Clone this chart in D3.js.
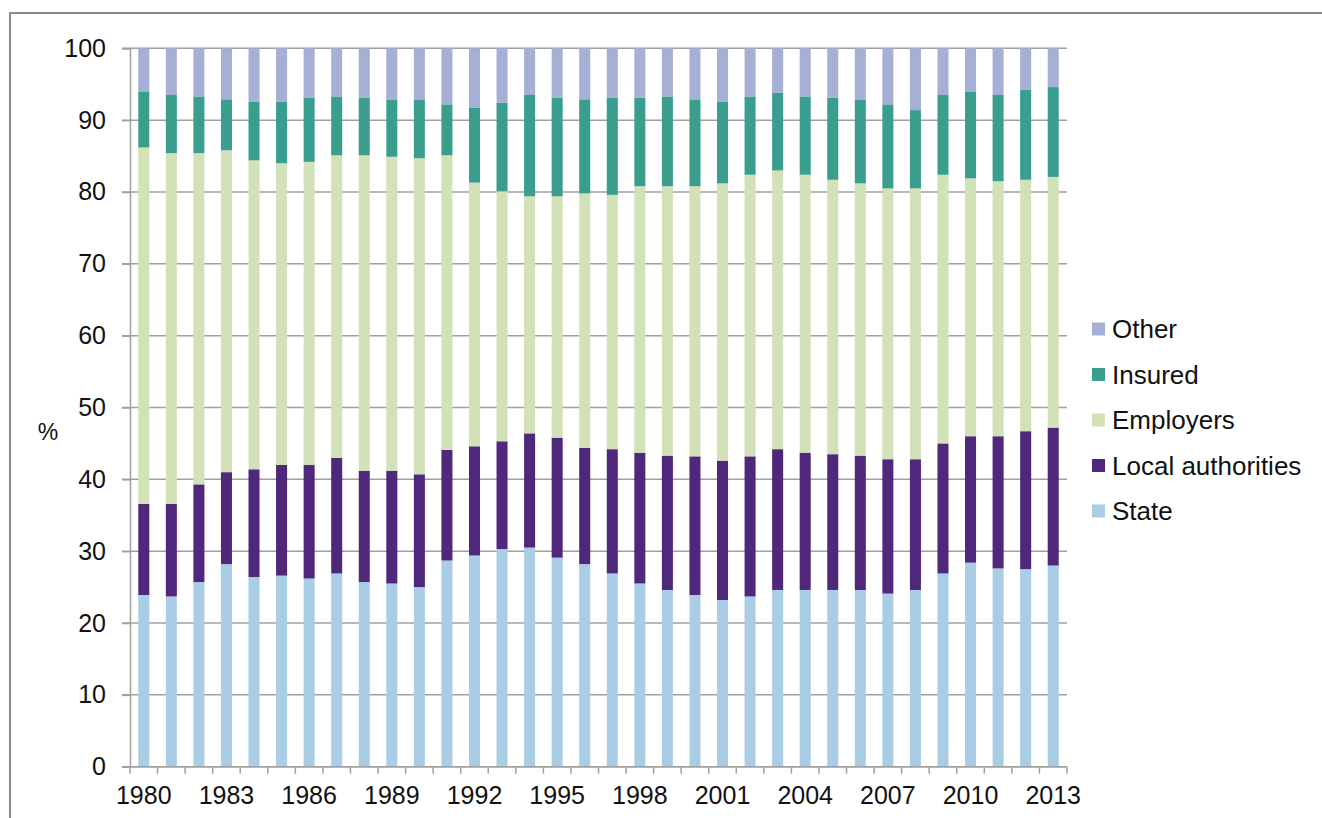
<!DOCTYPE html>
<html><head><meta charset="utf-8">
<script src="https://cdn.jsdelivr.net/npm/d3@7"></script>
<style>body{margin:0;background:#fff;}svg{display:block;font-family:"Liberation Sans",Arial,sans-serif;}</style>
</head><body>
<script>
const years = [1980,1981,1982,1983,1984,1985,1986,1987,1988,1989,1990,1991,1992,1993,1994,1995,1996,1997,1998,1999,2000,2001,2002,2003,2004,2005,2006,2007,2008,2009,2010,2011,2012,2013];
const seriesNames = ["State","Local authorities","Employers","Insured","Other"];
const state = [23.9,23.7,25.7,28.2,26.4,26.6,26.2,26.9,25.7,25.5,25.0,28.7,29.4,30.3,30.5,29.1,28.2,26.9,25.5,24.6,23.9,23.2,23.7,24.6,24.6,24.6,24.6,24.1,24.6,26.9,28.4,27.6,27.5,28.0];
const localAuth = [12.7,12.9,13.6,12.8,15.0,15.4,15.8,16.1,15.5,15.7,15.7,15.4,15.2,15.0,15.9,16.7,16.2,17.3,18.2,18.7,19.3,19.4,19.5,19.6,19.1,18.9,18.7,18.7,18.2,18.1,17.6,18.4,19.2,19.2];
const employers = [49.6,48.8,46.1,44.8,43.0,42.0,42.2,42.1,43.9,43.7,44.0,41.0,36.7,34.8,33.0,33.6,35.4,35.4,37.1,37.5,37.6,38.6,39.2,38.8,38.7,38.2,37.9,37.7,37.7,37.4,35.9,35.5,35.0,34.9];
const insured = [7.8,8.1,7.9,7.1,8.2,8.6,8.9,8.2,8.0,7.9,8.1,7.1,10.4,12.3,14.1,13.7,13.1,13.5,12.3,12.5,12.0,11.4,10.9,10.8,10.9,11.4,11.6,11.7,10.9,11.1,12.1,12.0,12.5,12.5];
const other = [6.0,6.5,6.7,7.1,7.4,7.4,6.9,6.7,6.9,7.2,7.2,7.8,8.3,7.6,6.5,6.9,7.1,6.9,6.9,6.7,7.2,7.4,6.7,6.2,6.7,6.9,7.2,7.8,8.6,6.5,6.0,6.5,5.8,5.4];
const yTicks = [0,10,20,30,40,50,60,70,80,90,100];
const xTickLabels = [1980,1983,1986,1989,1992,1995,1998,2001,2004,2007,2010,2013];
const colors = ["#a9cde4","#4f287c","#d2e1b7","#3a9e8e","#a6afd5"];

const rows = years.map((y,i)=>({year:y,"State":state[i],"Local authorities":localAuth[i],"Employers":employers[i],"Insured":insured[i],"Other":other[i]}));
const stacked = d3.stack().keys(seriesNames)(rows);

const W=1322,H=818;
const svg=d3.select("body").append("svg").attr("width",W).attr("height",H);
svg.append("path").attr("d","M10,"+H+"V13H"+W).attr("fill","none").attr("stroke","#8a8a8a").attr("stroke-width",2);

const x=d3.scaleBand().domain(years).range([130,1067]).paddingInner(0.6).paddingOuter(0.3);
const y=d3.scaleLinear().domain([0,100]).range([766.7,48.3]);

svg.append("g").selectAll("line").data(yTicks).join("line")
  .attr("x1",122).attr("x2",1067).attr("y1",d=>y(d)).attr("y2",d=>y(d))
  .attr("stroke","#a0a0a0").attr("stroke-width",1.5);

const color=d3.scaleOrdinal().domain(seriesNames).range(colors);
svg.append("g").selectAll("g").data(stacked).join("g").attr("fill",d=>color(d.key))
  .selectAll("rect").data(d=>d).join("rect")
  .attr("x",d=>x(d.data.year)).attr("width",x.bandwidth())
  .attr("y",d=>y(d[1])).attr("height",d=>y(d[0])-y(d[1]));

const yAxis=svg.append("g").attr("transform","translate(130,0)")
  .call(d3.axisLeft(y).tickValues(yTicks).tickSize(8).tickPadding(16));
yAxis.select(".domain").attr("stroke","#a0a0a0").attr("stroke-width",1.5);
yAxis.selectAll(".tick line").attr("stroke","#a0a0a0").attr("stroke-width",1.5);
yAxis.selectAll("text").attr("font-size",25).attr("fill","#111").attr("font-family","Liberation Sans, Arial, sans-serif");

const xg=svg.append("g").attr("transform","translate(0,766.7)");
xg.append("line").attr("x1",122).attr("x2",1067).attr("stroke","#a0a0a0").attr("stroke-width",1.5);
xg.selectAll("line.tk").data(d3.range(years.length+1)).join("line").attr("class","tk")
  .attr("x1",i=>130+i*(1067-130)/years.length).attr("x2",i=>130+i*(1067-130)/years.length)
  .attr("y1",0).attr("y2",7).attr("stroke","#a0a0a0").attr("stroke-width",1.5);
xg.selectAll("text").data(xTickLabels).join("text")
  .attr("x",d=>x(d)+x.bandwidth()/2).attr("y",20).attr("dy","0.71em")
  .attr("text-anchor","middle").attr("font-size",25).attr("fill","#111").text(d=>d);

svg.append("text").attr("x",48).attr("y",432).attr("dy","0.35em").attr("text-anchor","middle")
  .attr("font-size",23).attr("fill","#111").text("%");

const leg=svg.append("g");
const legOrder=seriesNames.slice().reverse();
legOrder.forEach((n,i)=>{
  const yy=329+i*45.5;
  leg.append("rect").attr("x",1092).attr("y",yy-6.5).attr("width",13).attr("height",13).attr("fill",color(n));
  leg.append("text").attr("x",1112).attr("y",yy).attr("dy","0.35em").attr("font-size",26).attr("fill","#111").text(n);
});
</script>
</body></html>
